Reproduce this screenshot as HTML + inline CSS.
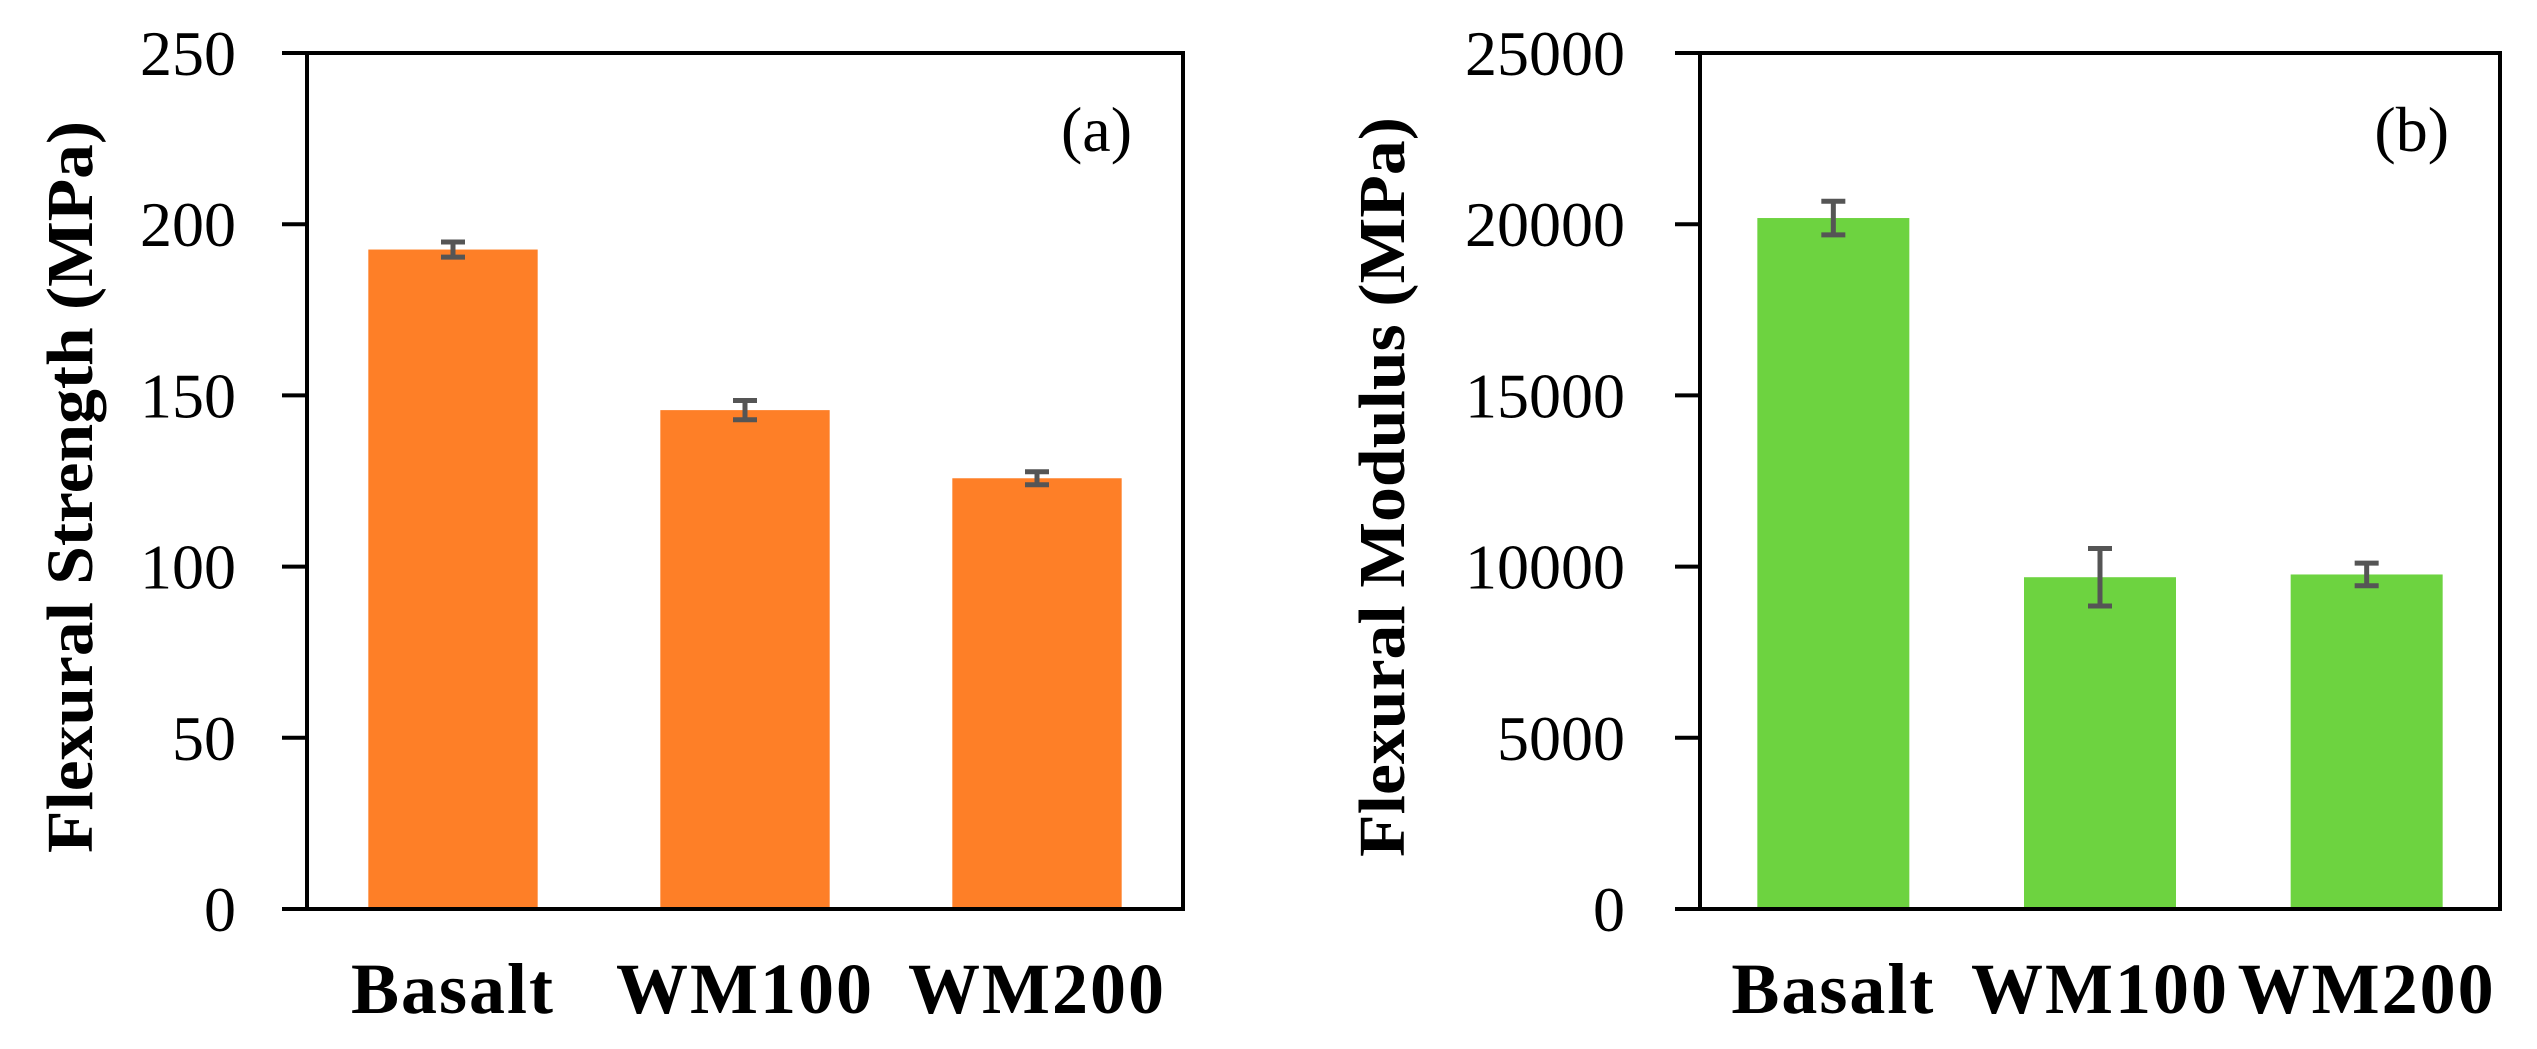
<!DOCTYPE html>
<html><head><meta charset="utf-8"><style>
html,body{margin:0;padding:0;background:#fff;}
svg{display:block;}
text{font-family:"Liberation Serif",serif;fill:#000;}
</style></head><body>
<svg id="chart" width="2537" height="1049" viewBox="0 0 2537 1049"></svg>
<script>
const categories = ["Basalt","WM100","WM200"];
const strengthValues = [192.6,145.7,125.8];
const strengthErrors = [2.2,2.8,1.9];
const strengthTicks = [0,50,100,150,200,250];
const modulusValues = [20180,9690,9770];
const modulusErrors = [490,840,330];
const modulusTicks = [0,5000,10000,15000,20000,25000];

const svg = document.getElementById('chart');
const NS = 'http://www.w3.org/2000/svg';
function mk(tag, attrs, parent){
  const e = document.createElementNS(NS, tag);
  for (const k in attrs) e.setAttribute(k, attrs[k]);
  (parent||svg).appendChild(e);
  return e;
}
function panel(cfg){
  const g = mk('g', {});
  
  
  const {x0,x1,y0,y1,max} = cfg;
  const yS = v => y1 - (v/max)*(y1-y0);
  const band = (x1-x0)/cfg.cats.length;
  const xC = i => x0 + band*(i+0.5);
  const bw = band*cfg.barFrac;
  cfg.vals.forEach((v,i)=>{
    const r = mk('rect', {x:xC(i)-bw/2, y:yS(v), width:bw, height:y1-yS(v), fill:cfg.color}, g);
    
    
    const e = cfg.errs[i];
    const eg = mk('g', {stroke:'#555', 'stroke-width':5}, g);
    
    
    mk('line', {x1:xC(i), x2:xC(i), y1:yS(v+e), y2:yS(v-e)}, eg);
    mk('line', {x1:xC(i)-12, x2:xC(i)+12, y1:yS(v+e), y2:yS(v+e)}, eg);
    mk('line', {x1:xC(i)-12, x2:xC(i)+12, y1:yS(v-e), y2:yS(v-e)}, eg);
    const t = mk('text', {x:xC(i), y:1013, 'text-anchor':'middle', 'font-size':72, 'font-weight':'bold', 'letter-spacing':2}, g);
    t.textContent = cfg.cats[i];
    
    
  });
  const frame = mk('rect', {x:x0, y:y0, width:x1-x0, height:y1-y0, fill:'none', stroke:'#000', 'stroke-width':4}, g);
  
  
  cfg.ticks.forEach(t=>{
    const y = yS(t);
    const tk = mk('line', {x1:x0-25, x2:x0, y1:y, y2:y, stroke:'#000', 'stroke-width':4}, g);
    
    
    const lb = mk('text', {x:cfg.tickRight, y:y+22, 'text-anchor':'end', 'font-size':64}, g);
    lb.textContent = t;
    
    
  });
  const yt = mk('text', {x:0, y:0, transform:`translate(${cfg.titleX},${(y0+y1)/2+6}) rotate(-90)`, 'text-anchor':'middle', 'font-size':66, 'font-weight':'bold', textLength:cfg.titleLen, lengthAdjust:'spacingAndGlyphs'}, g);
  yt.textContent = cfg.title;
  
  
  const pl = mk('text', {x:cfg.labelX, y:151, 'text-anchor':'end', 'font-size':64}, g);
  pl.textContent = cfg.label;
  
  
}
panel({name:'flexural-strength-chart', x0:307, x1:1183, y0:53, y1:909, max:250, cats:categories, vals:strengthValues, errs:strengthErrors, ticks:strengthTicks, color:'#fe7f27', barFrac:0.58, tickRight:236, titleX:92, titleLen:732, title:'Flexural Strength (MPa)', labelX:1132, label:'(a)'});
panel({name:'flexural-modulus-chart', x0:1700, x1:2500, y0:53, y1:909, max:25000, cats:categories, vals:modulusValues, errs:modulusErrors, ticks:modulusTicks, color:'#6dd340', barFrac:0.57, tickRight:1625, titleX:1404, titleLen:740, title:'Flexural Modulus (MPa)', labelX:2449, label:'(b)'});
</script>
</body></html>
